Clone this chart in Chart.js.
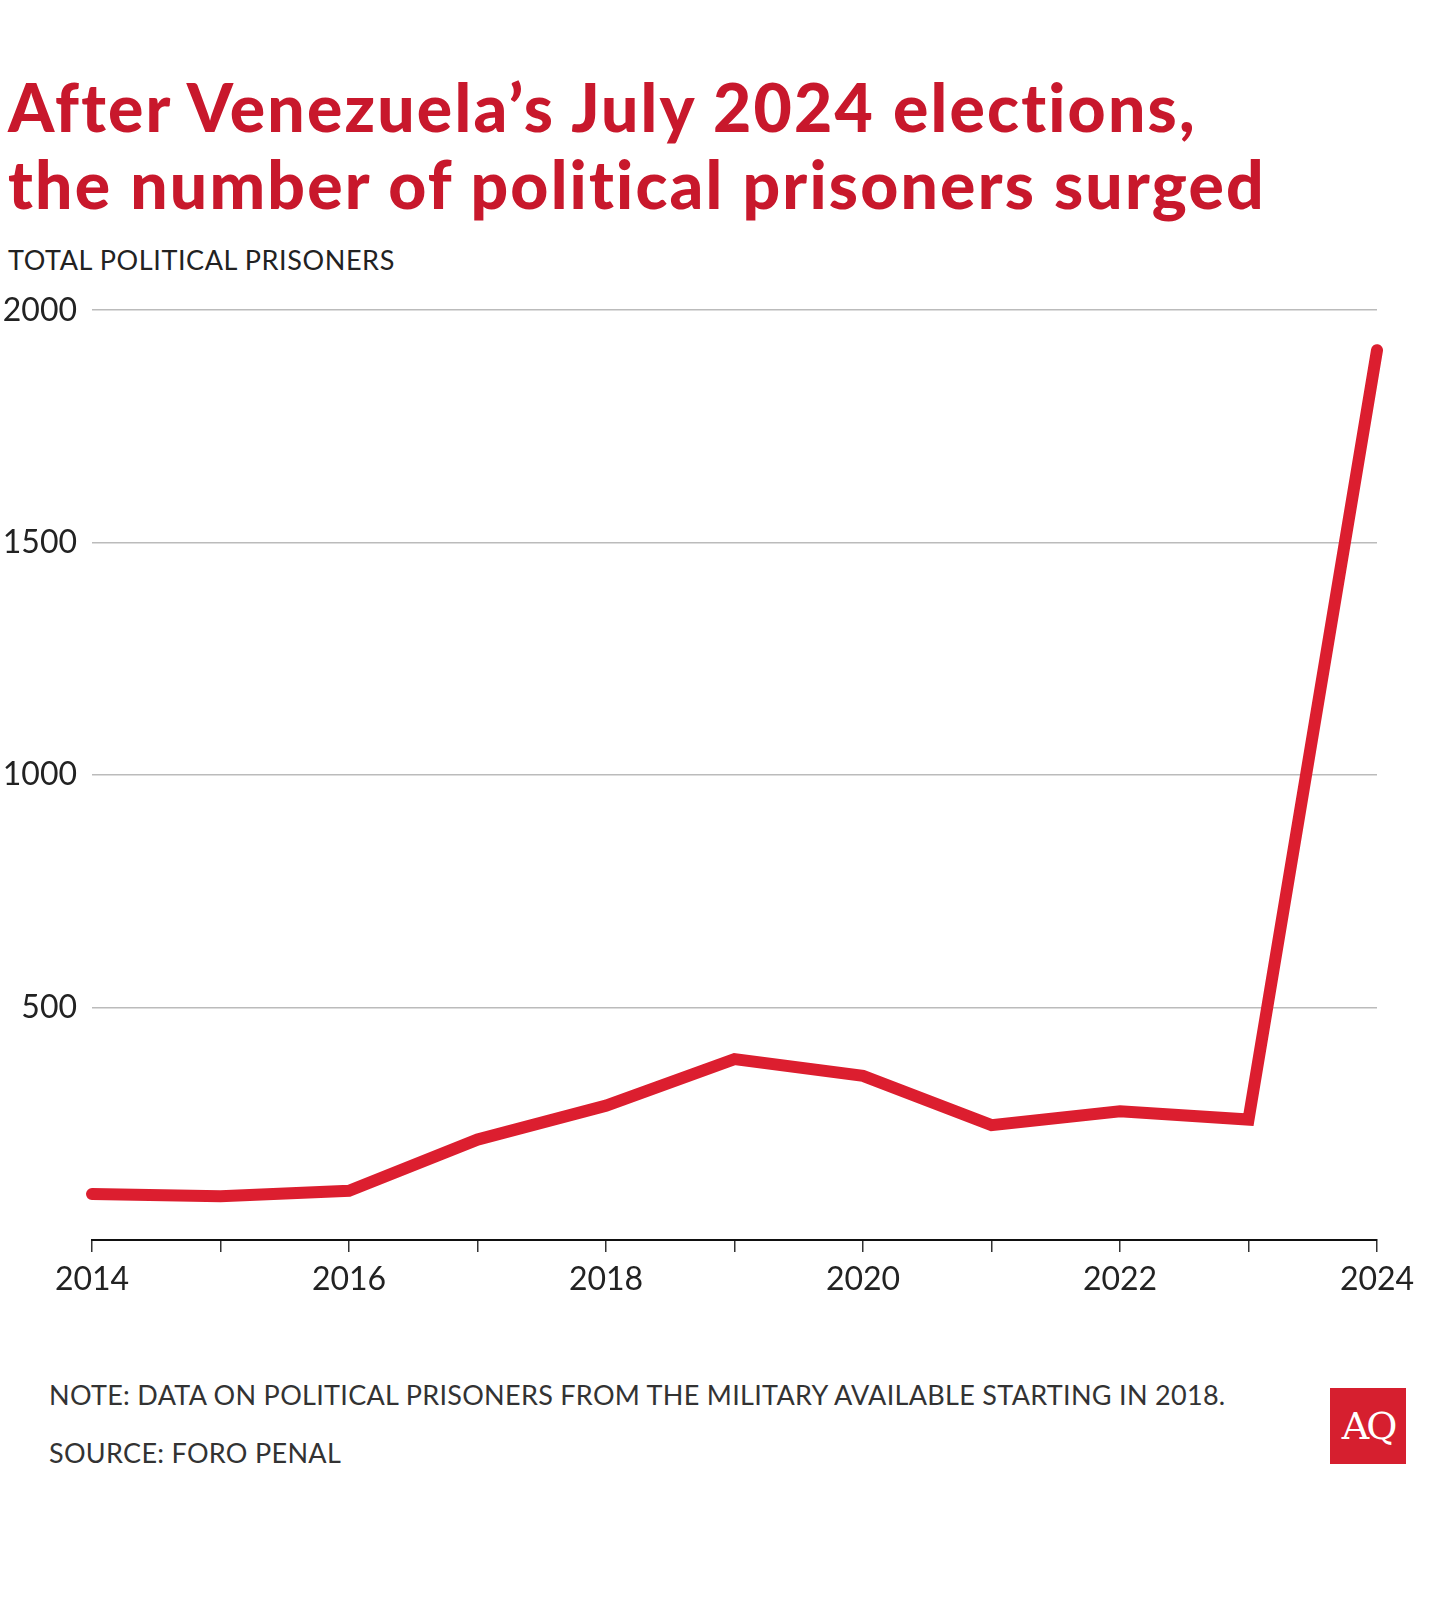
<!DOCTYPE html>
<html lang="en">
<head>
    <meta charset="UTF-8">
    <title>Venezuela political prisoners</title>
    <script src="https://cdn.jsdelivr.net/npm/chart.js"></script>
    <style>
        body { margin: 0; background: #fff; width: 1456px; height: 1611px; position: relative; overflow: hidden; font-family: Lato, sans-serif; }
        h1 { position: absolute; left: 8px; top: 68px; margin: 0; font-size: 66px; line-height: 77px; font-weight: 900; color: #c8182c; letter-spacing: 2.2px; }
        .sub { position: absolute; left: 8px; top: 243px; font-size: 27px; font-weight: 400; color: #222; letter-spacing: 0.6px; }
        .note { position: absolute; left: 49px; font-size: 27px; color: #333; font-weight: 400; letter-spacing: 0.3px; }
        #wrap { position: absolute; left: 0; top: 276px; width: 1456px; height: 1044px; }
        .logo { position: absolute; left: 1330px; top: 1388px; width: 76px; height: 76px; background: #d61f2f; color: #fff; font-family: "DejaVu Serif", serif; font-size: 38px; line-height: 76px; text-align: center; letter-spacing: -3px; }
    </style>
</head>
<body>
    <h1>After Venezuela’s July 2024 elections,<br>the number of political prisoners surged</h1>
    <div class="sub">TOTAL POLITICAL PRISONERS</div>
    <div id="wrap"><canvas id="prisonChart"></canvas></div>
    <div class="note" style="top:1378px">NOTE: DATA ON POLITICAL PRISONERS FROM THE MILITARY AVAILABLE STARTING IN 2018.</div>
    <div class="note" style="top:1436px">SOURCE: FORO PENAL</div>
    <div class="logo">AQ</div>

    <script>
        // data
        const years = ['2014', '2015', '2016', '2017', '2018', '2019', '2020', '2021', '2022', '2023', '2024'];
        const prisoners = [99, 94, 106, 216, 289, 389, 353, 247, 277, 259, 1914];
        const yTicks = [500, 1000, 1500, 2000];

        const ctx = document.getElementById('prisonChart').getContext('2d');
        new Chart(ctx, {
            type: 'line',
            data: {
                labels: years,
                datasets: [{
                    data: prisoners,
                    borderColor: '#dc1e2f',
                    borderWidth: 12,
                    borderCapStyle: 'round',
                    borderJoinStyle: 'miter',
                    pointRadius: 0,
                    fill: false,
                    tension: 0
                }]
            },
            options: {
                responsive: true,
                maintainAspectRatio: false,
                animation: false,
                layout: { padding: { top: 25, right: 79, bottom: 0, left: 0 } },
                plugins: { legend: { display: false }, tooltip: { enabled: false } },
                scales: {
                    x: {
                        border: { display: true, color: '#111', width: 2 },
                        grid: { drawOnChartArea: false, drawTicks: true, tickLength: 12, color: '#333', lineWidth: 1.5 },
                        ticks: {
                            autoSkip: false, maxRotation: 0, padding: 8,
                            color: '#222', font: { family: 'Lato', size: 32, weight: 400 },
                            callback: (v, i) => i % 2 === 0 ? years[i] : ''
                        },
                        afterFit: s => { s.height = 80; }
                    },
                    y: {
                        min: 0, max: 2000,
                        border: { display: false },
                        grid: { drawTicks: false, color: c => c.tick.value === 0 ? 'rgba(0,0,0,0)' : '#bbb', lineWidth: 1.5 },
                        afterBuildTicks: s => { s.ticks = [0].concat(yTicks).map(v => ({ value: v })); },
                        ticks: {
                            padding: 15, color: '#222', font: { family: 'Lato', size: 32, weight: 400 },
                            callback: v => v === 0 ? '' : v
                        },
                        afterFit: s => { s.width = 92; }
                    }
                }
            }
        });
    </script>
</body>
</html>
